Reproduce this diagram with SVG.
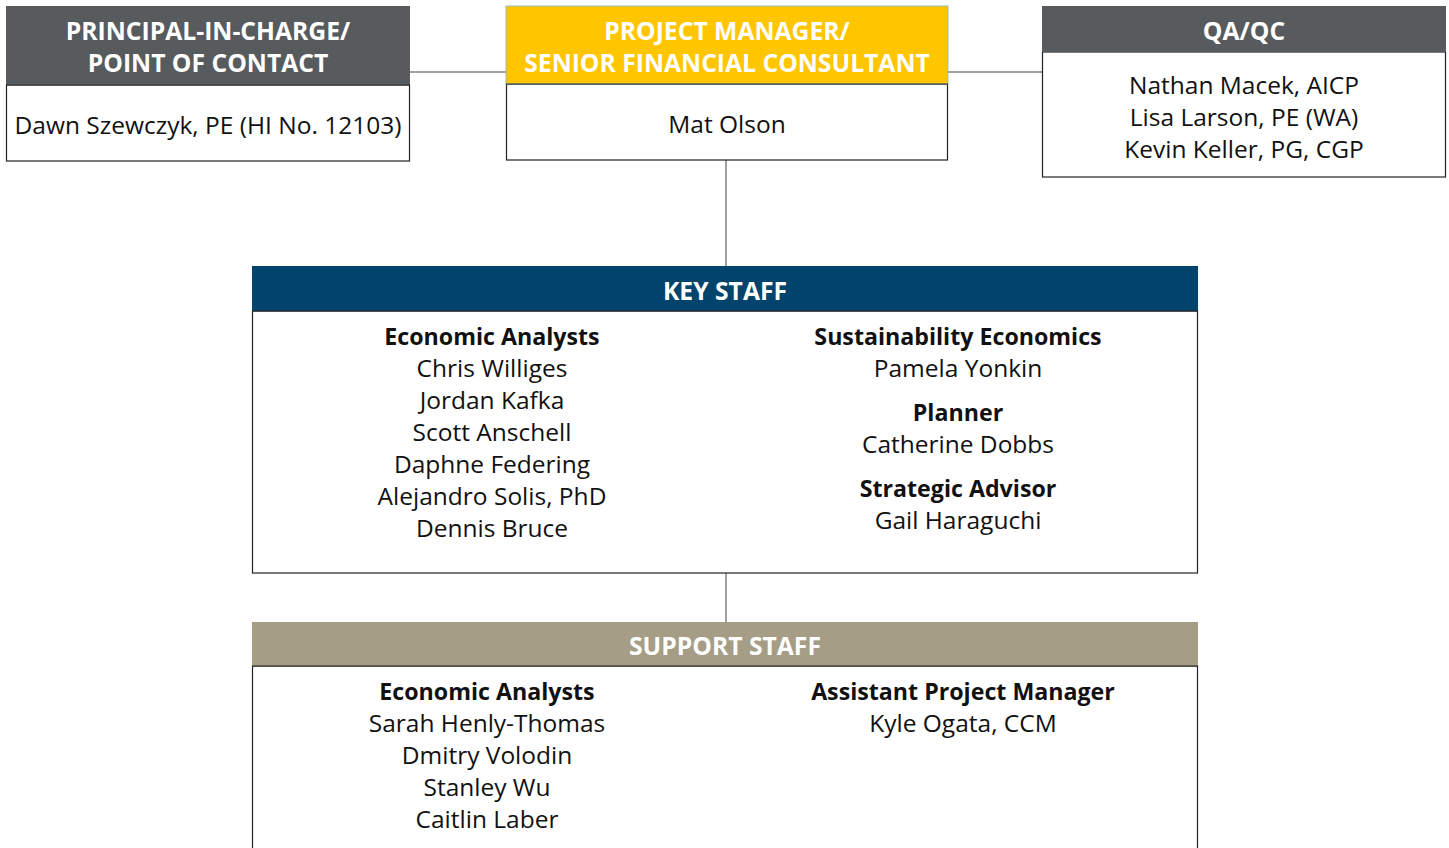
<svg xmlns="http://www.w3.org/2000/svg" width="1449" height="848" viewBox="0 0 1449 848">
<style>
text{font-family:"Open Sans","Noto Sans",sans-serif;text-anchor:middle;font-size:24.5px;fill:#111}
.h{font-weight:bold;fill:#fff;font-size:24.7px}
.b{font-weight:bold;font-size:23.2px}
.box{fill:#fff;stroke:#222;stroke-width:1.2}
.con{stroke:#808080;stroke-width:1.5;fill:none}
</style>
<rect width="1449" height="848" fill="#fff"/>
<g id="connectors">
<line class="con" x1="410" y1="72" x2="506" y2="72"/>
<line class="con" x1="948" y1="72" x2="1042" y2="72"/>
<line class="con" x1="726" y1="160" x2="726" y2="266"/>
<line class="con" x1="726" y1="573" x2="726" y2="622"/>
</g>
<g id="principal">
<rect class="box" x="6.5" y="85" width="403" height="76"/>
<rect x="6" y="6" width="404" height="79" fill="#585b5e"/>
<line x1="6" y1="85" x2="410" y2="85" stroke="#333" stroke-width="1.2"/>
<text class="h" x="208" y="40">PRINCIPAL-IN-CHARGE/</text>
<text class="h" x="208" y="72">POINT OF CONTACT</text>
<text x="208" y="134">Dawn Szewczyk, PE (HI No. 12103)</text>
</g>
<g id="pm">
<rect class="box" x="506.5" y="84" width="441" height="76"/>
<rect x="506" y="6" width="442" height="78" fill="#ffc600" stroke="#7fb6cc" stroke-width="0.8"/>
<line x1="506" y1="84" x2="948" y2="84" stroke="#333" stroke-width="1.2"/>
<text class="h" x="727" y="40">PROJECT MANAGER/</text>
<text class="h" x="727" y="72">SENIOR FINANCIAL CONSULTANT</text>
<text x="727" y="133">Mat Olson</text>
</g>
<g id="qaqc">
<rect class="box" x="1042.5" y="52" width="403" height="125"/>
<rect x="1042" y="6" width="404" height="46" fill="#585b5e"/>
<text class="h" x="1244" y="40">QA/QC</text>
<text x="1244" y="94">Nathan Macek, AICP</text>
<text x="1244" y="126">Lisa Larson, PE (WA)</text>
<text x="1244" y="158">Kevin Keller, PG, CGP</text>
</g>
<g id="key-staff">
<rect class="box" x="252.5" y="311" width="945" height="262"/>
<rect x="252" y="266" width="946" height="45" fill="#03446c"/>
<line x1="252" y1="311" x2="1198" y2="311" stroke="#222" stroke-width="1.2"/>
<text class="h" x="725" y="300">KEY STAFF</text>
<text class="b" x="492" y="345">Economic Analysts</text>
<text x="492" y="377">Chris Williges</text>
<text x="492" y="409">Jordan Kafka</text>
<text x="492" y="441">Scott Anschell</text>
<text x="492" y="473">Daphne Federing</text>
<text x="492" y="505">Alejandro Solis, PhD</text>
<text x="492" y="537">Dennis Bruce</text>
<text class="b" x="958" y="345">Sustainability Economics</text>
<text x="958" y="377">Pamela Yonkin</text>
<text class="b" x="958" y="421">Planner</text>
<text x="958" y="453">Catherine Dobbs</text>
<text class="b" x="958" y="497">Strategic Advisor</text>
<text x="958" y="529">Gail Haraguchi</text>
</g>
<g id="support-staff">
<rect class="box" x="252.5" y="666" width="945" height="200"/>
<rect x="252" y="622" width="946" height="44" fill="#a59d86"/>
<line x1="252" y1="666" x2="1198" y2="666" stroke="#222" stroke-width="1.2"/>
<text class="h" x="725" y="655">SUPPORT STAFF</text>
<text class="b" x="487" y="700">Economic Analysts</text>
<text x="487" y="732">Sarah Henly-Thomas</text>
<text x="487" y="764">Dmitry Volodin</text>
<text x="487" y="796">Stanley Wu</text>
<text x="487" y="828">Caitlin Laber</text>
<text class="b" x="963" y="700">Assistant Project Manager</text>
<text x="963" y="732">Kyle Ogata, CCM</text>
</g>
</svg>
